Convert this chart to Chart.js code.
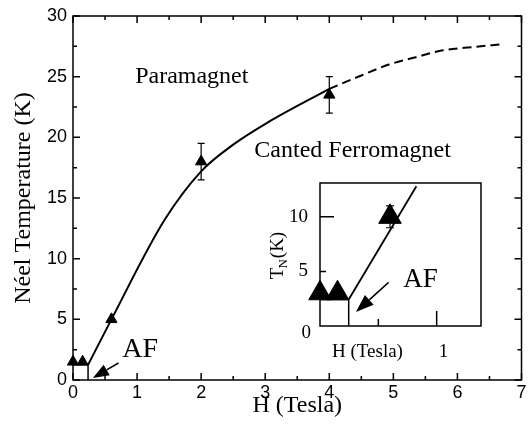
<!DOCTYPE html>
<html>
<head>
<meta charset="utf-8">
<script src="https://cdn.jsdelivr.net/npm/chart.js@4.4.0/dist/chart.umd.min.js"></script>
<style>
  html, body { margin: 0; padding: 0; background: #fff; }
  #wrap { position: relative; width: 529px; height: 436px; }
  #main { position: absolute; left: 0; top: 0; }
  #inset { position: absolute; left: 255px; top: 168px; }
</style>
</head>
<body>
<div id="wrap">
  <canvas id="main" width="529" height="436"></canvas>
  <canvas id="inset" width="240" height="200"></canvas>
</div>
<script>
// measured Neel temperatures vs field
const fieldH = [0, 0.15, 0.6, 2, 4];
const neelT = [1.5, 1.5, 5, 18, 23.5];
const errLo = [null, null, null, 16.5, 22];
const errHi = [null, null, null, 19.5, 25];

// phase boundary guide: solid part, then dashed extrapolation
const fitH = [0.235, 0.6, 1.43, 2.0, 2.5, 3.03, 4.0];
const fitT = [1.25, 5.0, 13.2, 17.2, 19.4, 21.2, 24.0];
const extH = [4.0, 4.5, 4.93, 5.35, 5.75, 6.26, 6.69];
const extT = [24.0, 25.1, 26.0, 26.6, 27.15, 27.45, 27.67];

// AF pocket at low field
const afH = 0.235;
const afT = 1.25;

const xTicks = [0, 1, 2, 3, 4, 5, 6, 7];
const yTicks = [0, 5, 10, 15, 20, 25, 30];

// inset: low field data
const insetH = [0, 0.15, 0.6];
const insetT = [3, 3, 10];
const insetErrLo = [null, null, 9];
const insetErrHi = [null, null, 11];
const insetLineH = [0.246, 0.826];
const insetLineT = [2.42, 12.8];
const insetAfH = 0.246;
const insetAfT = 2.42;
const insetYTicks = [0, 5, 10];
const insetXTicks = [0.5, 1];

const pts = (xs, ys) => xs.map((x, i) => ({ x, y: ys[i] }));
const serif = '"Liberation Serif", "Times New Roman", serif';
const sans = '"Liberation Sans", Arial, sans-serif';

function arrow(ctx, x0, y0, x1, y1, head, half) {
  const a = Math.atan2(y1 - y0, x1 - x0);
  const bx = x1 - head * Math.cos(a), by = y1 - head * Math.sin(a);
  ctx.beginPath();
  ctx.moveTo(x0, y0);
  ctx.lineTo(bx, by);
  ctx.stroke();
  ctx.beginPath();
  ctx.moveTo(x1, y1);
  ctx.lineTo(bx + half * Math.sin(a), by - half * Math.cos(a));
  ctx.lineTo(bx - half * Math.sin(a), by + half * Math.cos(a));
  ctx.closePath();
  ctx.fill();
}

function errorBars(ctx, sx, sy, xs, lo, hi, cap) {
  ctx.beginPath();
  xs.forEach((h, i) => {
    if (lo[i] == null) return;
    const px = sx.getPixelForValue(h);
    const p0 = sy.getPixelForValue(lo[i]), p1 = sy.getPixelForValue(hi[i]);
    ctx.moveTo(px, p0); ctx.lineTo(px, p1);
    ctx.moveTo(px - cap, p0); ctx.lineTo(px + cap, p0);
    ctx.moveTo(px - cap, p1); ctx.lineTo(px + cap, p1);
  });
  ctx.stroke();
}

const mainDecor = {
  id: 'mainDecor',
  afterDraw(chart) {
    const { ctx, chartArea: a, scales: { x, y } } = chart;
    ctx.save();
    ctx.strokeStyle = '#000';
    ctx.fillStyle = '#000';

    ctx.lineWidth = 1.2;
    errorBars(ctx, x, y, fieldH, errLo, errHi, 3.5);

    // frame with inward ticks on every side
    ctx.lineWidth = 1.5;
    ctx.strokeRect(a.left, a.top, a.right - a.left, a.bottom - a.top);
    ctx.beginPath();
    for (let v = 0; v <= 7; v += 0.5) {
      const px = x.getPixelForValue(v);
      const len = v % 1 === 0 ? 7 : 4;
      ctx.moveTo(px, a.bottom); ctx.lineTo(px, a.bottom - len);
      ctx.moveTo(px, a.top); ctx.lineTo(px, a.top + len);
    }
    for (let v = 0; v <= 30; v += 2.5) {
      const py = y.getPixelForValue(v);
      const len = v % 5 === 0 ? 7 : 4;
      ctx.moveTo(a.left, py); ctx.lineTo(a.left + len, py);
      ctx.moveTo(a.right, py); ctx.lineTo(a.right - len, py);
    }
    ctx.stroke();

    // arrow into the AF pocket
    ctx.lineWidth = 1.5;
    arrow(ctx, x.getPixelForValue(0.71), y.getPixelForValue(1.4),
      x.getPixelForValue(0.31), y.getPixelForValue(0.16), 16, 6);

    ctx.textBaseline = 'alphabetic';
    ctx.textAlign = 'left';
    ctx.font = '28px ' + serif;
    ctx.fillText('AF', x.getPixelForValue(0.77), y.getPixelForValue(1.9));
    ctx.font = '24px ' + serif;
    ctx.fillText('Paramagnet', x.getPixelForValue(0.97), y.getPixelForValue(24.45));
    ctx.fillText('Canted Ferromagnet', x.getPixelForValue(2.83), y.getPixelForValue(18.4));
    ctx.restore();
  }
};

new Chart(document.getElementById('main'), {
  type: 'scatter',
  data: {
    datasets: [
      {
        data: pts(fitH, fitT), showLine: true, borderColor: '#000', borderWidth: 2,
        pointRadius: 0, cubicInterpolationMode: 'monotone'
      },
      {
        data: pts(extH, extT), showLine: true, borderColor: '#000', borderWidth: 2,
        borderDash: [9, 5], pointRadius: 0, cubicInterpolationMode: 'monotone'
      },
      {
        data: [{ x: 0, y: afT }, { x: afH, y: afT }, { x: afH, y: 0 }],
        showLine: true, borderColor: '#000', borderWidth: 1.5, pointRadius: 0, tension: 0
      },
      {
        data: pts(fieldH, neelT), pointStyle: 'triangle', pointRadius: 6.5,
        backgroundColor: '#000', borderColor: '#000', borderWidth: 1, clip: false
      }
    ]
  },
  options: {
    responsive: false,
    animation: false,
    events: [],
    layout: { padding: { top: 16, right: 1, left: 0, bottom: 0 } },
    plugins: { legend: { display: false }, tooltip: { enabled: false } },
    scales: {
      x: {
        type: 'linear', min: 0, max: 7,
        afterBuildTicks(s) { s.ticks = xTicks.map(v => ({ value: v })); },
        ticks: { padding: 2, color: '#000', font: { family: sans, size: 18 } },
        grid: { display: false, drawTicks: false }, border: { display: false },
        title: {
          display: true, text: 'H (Tesla)', color: '#000',
          font: { family: serif, size: 24 }, padding: { top: 0, bottom: 16 }
        },
        afterFit(s) { s.height = 56; s.paddingLeft = 0; s.paddingRight = 0; }
      },
      y: {
        type: 'linear', min: 0, max: 30,
        afterBuildTicks(s) { s.ticks = yTicks.map(v => ({ value: v })); },
        ticks: { padding: 6, color: '#000', font: { family: sans, size: 18 } },
        grid: { display: false, drawTicks: false }, border: { display: false },
        title: {
          display: true, text: 'Néel Temperature (K)', color: '#000',
          font: { family: serif, size: 24 }, padding: { top: 9, bottom: 0 }
        },
        afterFit(s) { s.width = 73; s.paddingTop = 0; s.paddingBottom = 0; }
      }
    }
  },
  plugins: [mainDecor]
});

const insetDecor = {
  id: 'insetDecor',
  afterDraw(chart) {
    const { ctx, chartArea: a, scales: { x, y } } = chart;
    ctx.save();
    ctx.strokeStyle = '#000';
    ctx.fillStyle = '#000';

    ctx.lineWidth = 1.2;
    errorBars(ctx, x, y, insetH, insetErrLo, insetErrHi, 4);

    ctx.lineWidth = 1.5;
    ctx.strokeRect(a.left, a.top, a.right - a.left, a.bottom - a.top);
    ctx.beginPath();
    insetXTicks.forEach(v => {
      const px = x.getPixelForValue(v);
      const len = v % 1 === 0 ? 15 : 7;
      ctx.moveTo(px, a.bottom); ctx.lineTo(px, a.bottom - len);
    });
    insetYTicks.forEach(v => {
      if (v === 0) return;
      const py = y.getPixelForValue(v);
      const len = v % 10 === 0 ? 14 : 6;
      ctx.moveTo(a.left, py); ctx.lineTo(a.left + len, py);
    });
    ctx.stroke();

    // tick labels
    ctx.font = '19px ' + serif;
    ctx.textBaseline = 'middle';
    ctx.textAlign = 'right';
    insetYTicks.forEach(v => {
      const py = v === 0 ? a.bottom + 7 : y.getPixelForValue(v);
      ctx.fillText(String(v), a.left - (v === 0 ? 9 : 12), py);
    });
    ctx.textAlign = 'left';
    ctx.fillText('1', x.getPixelForValue(1) + 2, a.bottom + 26);
    ctx.fillText('H (Tesla)', a.left + 12, a.bottom + 26);

    // T_N(K), rotated
    ctx.save();
    ctx.translate(a.left - 44, (a.top + a.bottom) / 2 + 1);
    ctx.rotate(-Math.PI / 2);
    ctx.textBaseline = 'alphabetic';
    ctx.font = '19px ' + serif;
    const wT = ctx.measureText('T').width;
    const wK = ctx.measureText('(K)').width;
    ctx.font = '13px ' + serif;
    const wN = ctx.measureText('N').width;
    let cx = -(wT + wN + wK) / 2;
    ctx.font = '19px ' + serif;
    ctx.fillText('T', cx, 6.5);
    cx += wT - 1;
    ctx.font = '13px ' + serif;
    ctx.fillText('N', cx, 10.5);
    cx += wN + 1;
    ctx.font = '19px ' + serif;
    ctx.fillText('(K)', cx, 6.5);
    ctx.restore();

    ctx.lineWidth = 1.5;
    arrow(ctx, x.getPixelForValue(0.588), y.getPixelForValue(4.0),
      x.getPixelForValue(0.308), y.getPixelForValue(1.29), 18, 6.5);
    ctx.font = '27px ' + serif;
    ctx.textBaseline = 'alphabetic';
    ctx.fillText('AF', x.getPixelForValue(0.714), y.getPixelForValue(3.6));
    ctx.restore();
  }
};

new Chart(document.getElementById('inset'), {
  type: 'scatter',
  data: {
    datasets: [
      {
        data: pts(insetLineH, insetLineT), showLine: true, borderColor: '#000',
        borderWidth: 1.8, pointRadius: 0, tension: 0
      },
      {
        data: [{ x: 0, y: insetAfT }, { x: insetAfH, y: insetAfT }, { x: insetAfH, y: 0 }],
        showLine: true, borderColor: '#000', borderWidth: 1.5, pointRadius: 0, tension: 0
      },
      {
        data: pts(insetH, insetT), pointStyle: 'triangle', pointRadius: 13,
        backgroundColor: '#000', borderColor: '#000', borderWidth: 1, clip: false
      }
    ]
  },
  options: {
    responsive: false,
    animation: false,
    events: [],
    layout: { padding: { left: 65, top: 15, right: 11, bottom: 42 } },
    plugins: { legend: { display: false }, tooltip: { enabled: false } },
    scales: {
      x: { type: 'linear', min: 0, max: 1.38, display: false },
      y: { type: 'linear', min: 0, max: 13.1, display: false }
    }
  },
  plugins: [insetDecor]
});
</script>
</body>
</html>
